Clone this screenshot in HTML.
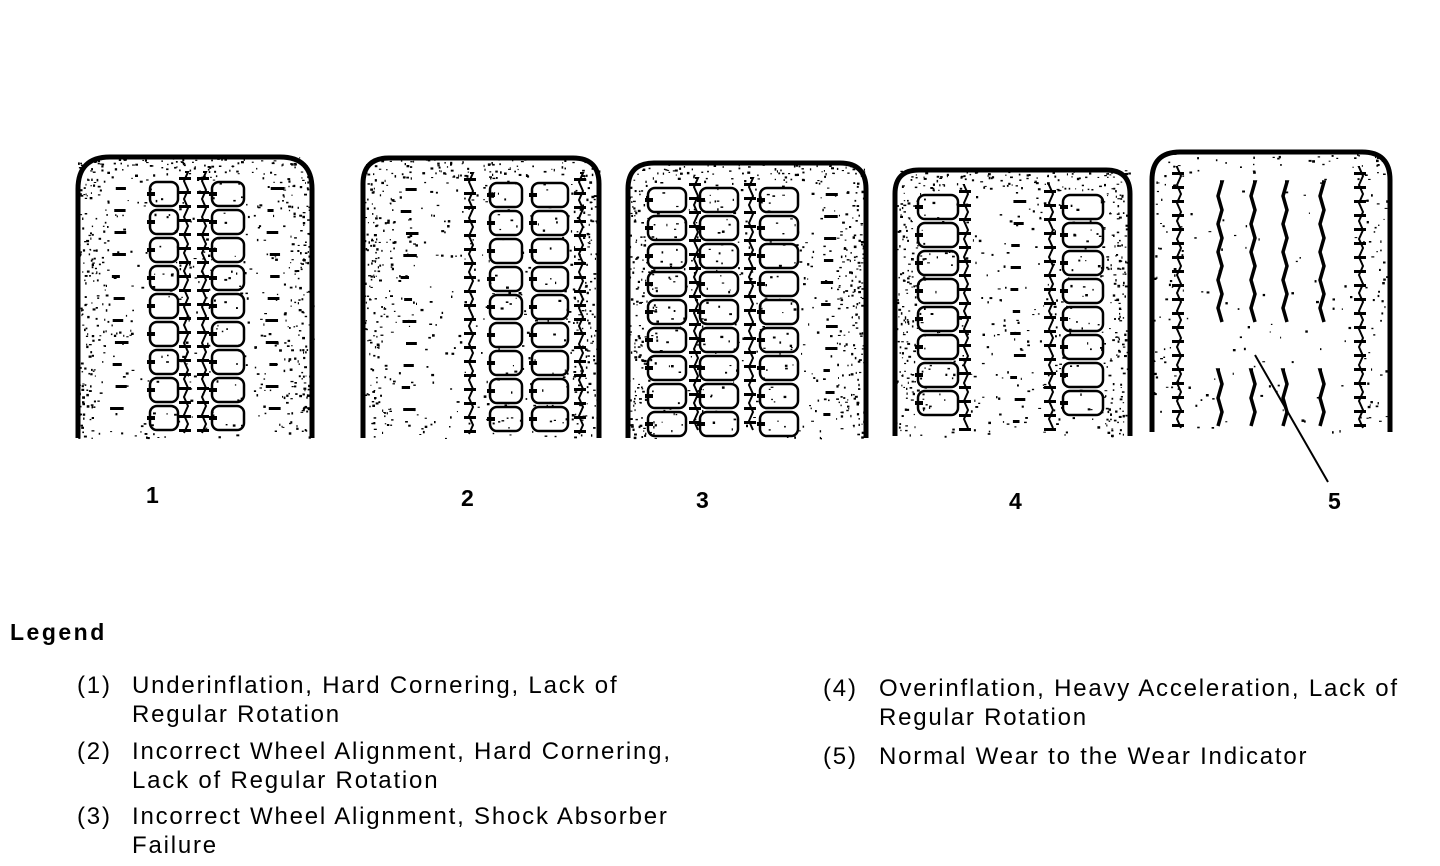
<!DOCTYPE html>
<html><head><meta charset="utf-8"><style>
html,body{margin:0;padding:0;background:#fff;width:1440px;height:866px;overflow:hidden}
svg{position:absolute;left:0;top:0}
.t{position:absolute;font-family:"Liberation Sans",sans-serif;color:#000;font-size:24px;letter-spacing:1.8px;line-height:29px;white-space:nowrap}
.n{position:absolute;font-family:"Liberation Sans",sans-serif;font-size:23px;font-weight:bold}
</style></head><body>
<svg id="s" width="1440" height="866" xmlns="http://www.w3.org/2000/svg"></svg>
<div class="n" style="left:146px;top:482px">1</div>
<div class="n" style="left:461px;top:485px">2</div>
<div class="n" style="left:696px;top:487px">3</div>
<div class="n" style="left:1009px;top:488px">4</div>
<div class="n" style="left:1328px;top:488px">5</div>
<div class="t" style="left:10px;top:618px;font-weight:bold;font-size:23px;letter-spacing:2.5px">Legend</div>
<div class="t" style="left:77px;top:671px">(1)</div>
<div class="t" style="left:132px;top:671px">Underinflation, Hard Cornering, Lack of<br>Regular Rotation</div>
<div class="t" style="left:77px;top:737px">(2)</div>
<div class="t" style="left:132px;top:737px">Incorrect Wheel Alignment, Hard Cornering,<br>Lack of Regular Rotation</div>
<div class="t" style="left:77px;top:802px">(3)</div>
<div class="t" style="left:132px;top:802px">Incorrect Wheel Alignment, Shock Absorber<br>Failure</div>
<div class="t" style="left:823px;top:674px">(4)</div>
<div class="t" style="left:879px;top:674px">Overinflation, Heavy Acceleration, Lack of<br>Regular Rotation</div>
<div class="t" style="left:823px;top:742px">(5)</div>
<div class="t" style="left:879px;top:742px">Normal Wear to the Wear Indicator</div>
<script>
var s=document.getElementById('s'),out='';
var seed=7;function r(){seed=(seed*16807)%2147483647;return seed/2147483647;}
function tire(x0,x1,top,bot,rad,cols,dense){
 var w=x1-x0;
 out+='<path d="M'+x0+' '+bot+' L'+x0+' '+(top+rad)+' Q'+x0+' '+top+' '+(x0+rad)+' '+top+' L'+(x1-rad)+' '+top+' Q'+x1+' '+top+' '+x1+' '+(top+rad)+' L'+x1+' '+bot+'" fill="none" stroke="#000" stroke-width="5"/>';
 var n=Math.floor(w*(bot-top)*dense);
 for(var i=0;i<n;i++){
  var x=x0+r()*w,y=top+r()*(bot-top);
  var edge=Math.min(x-x0,x1-x,(y-top)*1.5);
  if(edge>30 && r()>0.3) continue;
  if(edge>15 && r()>0.6) continue;
  if(edge<0) continue;
  out+='<rect x="'+x.toFixed(1)+'" y="'+y.toFixed(1)+'" width="'+(1+r()*2).toFixed(1)+'" height="'+(1+r()*1.5).toFixed(1)+'"/>';
 }
 cols.forEach(function(c){
  var cx=c[0],cw=c[1],type=c[2];
  if(type=='b'){
   for(var y=top+25;y<bot-18;y+=28){
    out+='<rect x="'+cx+'" y="'+y+'" width="'+cw+'" height="24" rx="7" fill="none" stroke="#000" stroke-width="2.5"/>';
    out+='<rect x="'+(cx-3)+'" y="'+(y+10)+'" width="8" height="4"/>';
   }
  } else if(type=='z'){
   var d='M'+cx+' '+(top+15);
   for(var y=top+15;y<bot;y+=9){d+=' L'+(cx+(((y/9)|0)%2?3:-1))+' '+y;}
   out+='<path d="'+d+'" fill="none" stroke="#000" stroke-width="2"/>';
   for(var y=top+20;y<bot-5;y+=14)out+='<rect x="'+(cx-6)+'" y="'+y+'" width="12" height="3"/>';
  } else if(type=='d'){
   for(var y=top+30;y<bot-10;y+=22)out+='<rect x="'+(cx+r()*6)+'" y="'+y+'" width="'+(6+r()*8)+'" height="3"/>';
  } else if(type=='w'){
   [[top+30,c[3]],[c[4],bot-5]].forEach(function(seg){
    var d='M'+cx+' '+seg[0];
    for(var y=seg[0];y<seg[1];y+=14)d+=' L'+(cx+(((y/14)|0)%2?2:-2))+' '+y;
    out+='<path d="'+d+'" fill="none" stroke="#000" stroke-width="3.5"/>';
   });
  }
 });
}
tire(78,312,157,438,32,[[150,28,'b'],[185,0,'z'],[203,0,'z'],[212,32,'b'],[110,0,'d'],[265,0,'d']],0.03);
tire(363,599,158,438,26,[[490,32,'b'],[532,36,'b'],[470,0,'z'],[400,0,'d'],[580,0,'z']],0.028);
tire(628,866,163,438,26,[[648,38,'b'],[700,38,'b'],[760,38,'b'],[695,0,'z'],[750,0,'z'],[820,0,'d']],0.028);
tire(895,1130,170,436,24,[[918,40,'b'],[1063,40,'b'],[965,0,'z'],[1050,0,'z'],[1010,0,'d']],0.028);
tire(1152,1390,152,432,28,[[1220,0,'w',330,370],[1253,0,'w',330,370],[1285,0,'w',330,370],[1322,0,'w',330,370],[1178,0,'z'],[1360,0,'z']],0.01);
out+='<line x1="1255" y1="355" x2="1328" y2="482" stroke="#000" stroke-width="2"/>';
s.innerHTML=out;
</script>
</body></html>
